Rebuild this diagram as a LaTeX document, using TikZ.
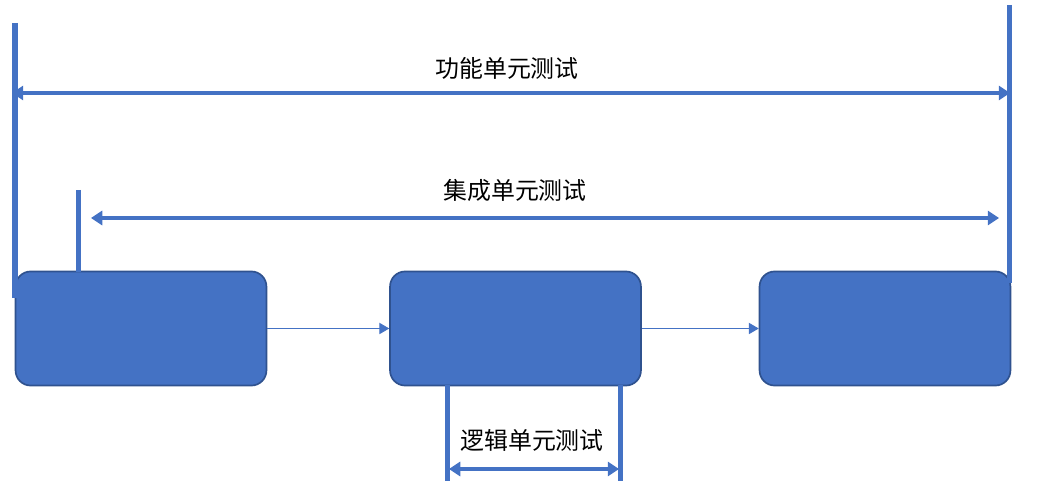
\documentclass[tikz,border=0pt]{standalone}
\usepackage{fontspec}
\usepackage{tikz}
\newfontfamily\cjk{Noto Sans CJK SC}
\usetikzlibrary{arrows.meta, calc, positioning}
\definecolor{unitblue}{HTML}{4472C4}
\definecolor{unitedge}{HTML}{2F528F}
\tikzset{
	unitbox/.style={draw=unitedge, line width=1.2pt, fill=unitblue, rounded corners=0.375cm,
		minimum width=6.27cm, minimum height=2.85cm, inner sep=0pt},
	flow/.style={draw=unitblue, line width=0.7pt, -{Triangle[length=7pt, width=8pt]}},
	bar/.style={draw=unitblue, line width=3.6pt},
	span/.style={draw=unitblue, line width=3.4pt, {Triangle[length=8pt, width=10pt]}-{Triangle[length=8pt, width=10pt]}},
	caption/.style={font=\cjk\fontsize{17}{20}\selectfont, text=black}
}

\begin{document}
\begin{tikzpicture}[x=0.025cm, y=-0.025cm]
	\useasboundingbox (0,0) rectangle (1041,504);

	% the three units
	\node[unitbox] (b1) at (141,328.5) {};
	\node[unitbox] (b2) at (515.5,328.5) {};
	\node[unitbox] (b3) at (885,328.5) {};
	\draw[flow] (b1) -- (b2);
	\draw[flow] (b2) -- (b3);

	% functional
	\draw[bar] (15,23) -- (15,298);
	\draw[bar] (1009.5,5) -- (1009.5,283);
	\coordinate (fl) at (12,93);
	\coordinate (fr) at (1010,93);
	\draw[span] (fl) -- (fr);
	\node[caption] (ft) at (507,68) {功能单元测试};

	% integration
	\draw[bar] (78.5,190) -- (78.5,272);
	\coordinate (il) at (91,218);
	\coordinate (ir) at (999,218);
	\draw[span] (il) -- (ir);
	\node[caption] (it) at (515,190) {集成单元测试};

	% logic
	\draw[bar] (447.5,385) -- (447.5,481);
	\draw[bar] (620.5,385) -- (620.5,481);
	\coordinate (ll) at (449,469);
	\coordinate (lr) at (619,469);
	\draw[span] (ll) -- (lr);
	\node[caption] (lt) at (532,440) {逻辑单元测试};
\end{tikzpicture}
\end{document}
